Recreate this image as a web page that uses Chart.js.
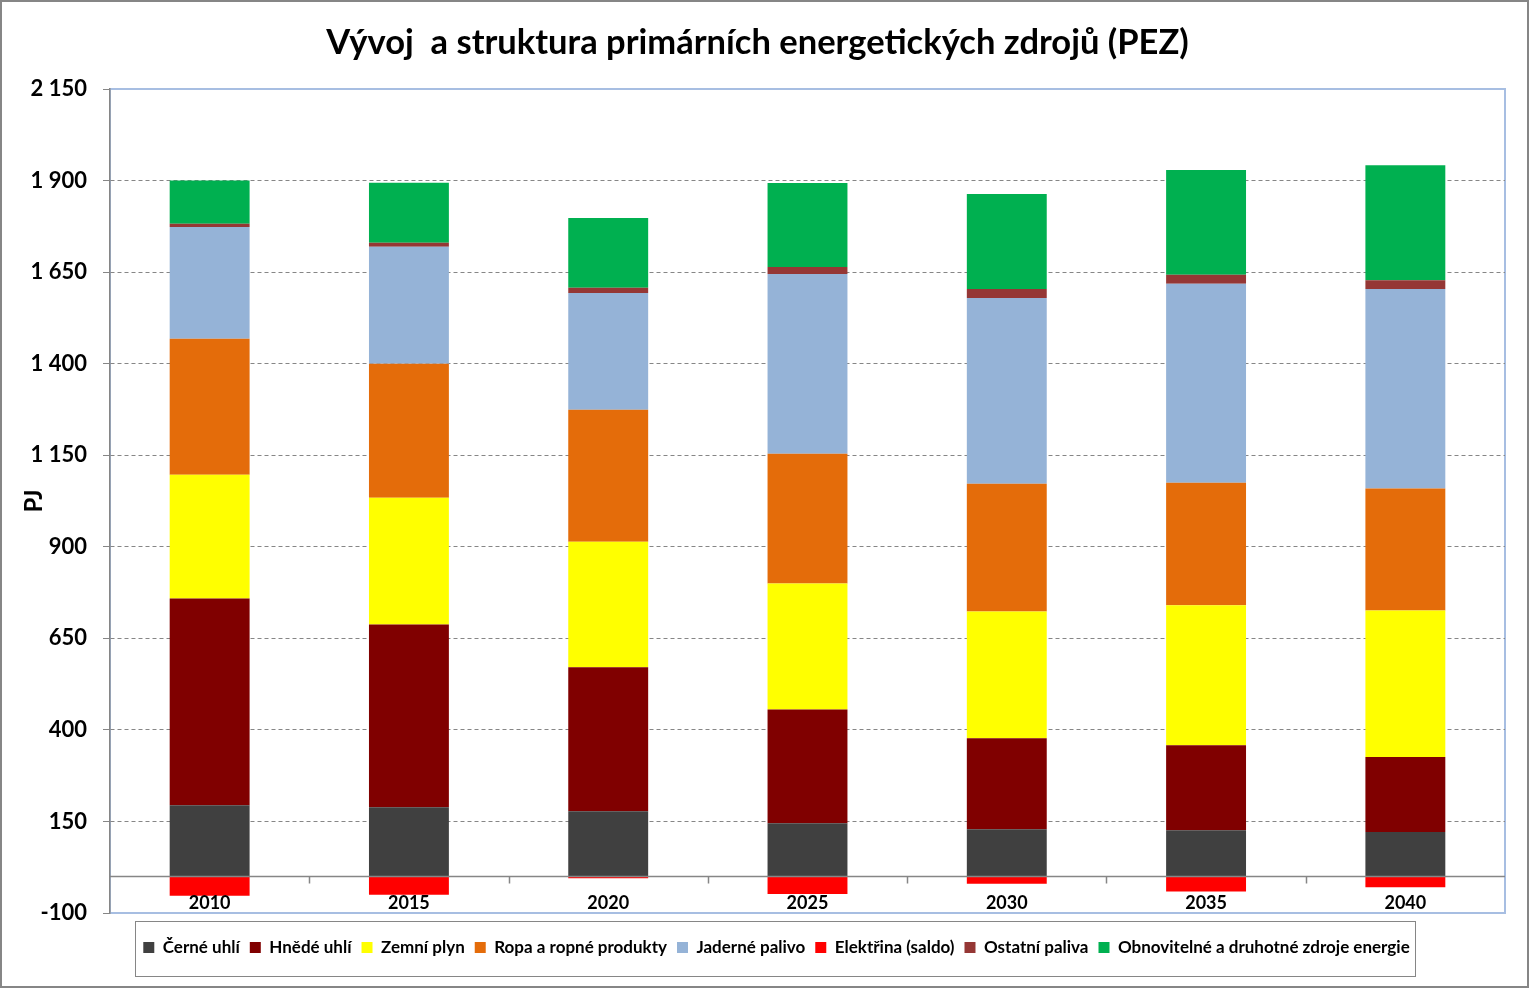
<!DOCTYPE html>
<html>
<head>
<meta charset="utf-8">
<script src="https://cdn.jsdelivr.net/npm/chart.js@4/dist/chart.umd.min.js"></script>
<style>
  html, body { margin: 0; padding: 0; background: #fff; }
  #wrap { width: 1529px; height: 988px; }
</style>
</head>
<body>
<div id="wrap"><canvas id="pez"></canvas></div>
<script>
const years = ['2010', '2015', '2020', '2025', '2030', '2035', '2040'];
const cerneUhli = [194, 189, 178, 145, 129, 126, 121];
const hnedeUhli = [565, 499, 393, 311, 248, 232, 205];
const zemniPlyn = [338, 346, 343, 344, 346, 382, 400];
const ropa = [371, 366, 360, 354, 349, 335, 333];
const jadernePalivo = [305, 319, 319, 491, 507, 543, 545];
const elektrina = [-53, -50, -5, -48, -20, -41, -30];
const ostatniPaliva = [9, 11, 14, 19, 25, 25, 24];
const obnovitelne = [118, 164, 191, 229, 259, 286, 314];
const yTicks = [-100, 150, 400, 650, 900, 1150, 1400, 1650, 1900, 2150];

Chart.defaults.font.family = 'Lato, "Open Sans", sans-serif';
Chart.defaults.font.weight = 'bold';
Chart.defaults.color = '#000';

// frame, zero line, year labels and legend box like the excel original
const frame = {
  id: 'frame',
  afterLayout(chart) {
    // legend sits a bit right of centre in the original
    chart.legend.left += 19;
    chart.legend.right += 19;
  },
  beforeDraw(chart) {
    const {ctx, chartArea: a} = chart;
    ctx.save();
    ctx.strokeStyle = '#a7bee2';
    ctx.lineWidth = 2;
    ctx.strokeRect(a.left, a.top, a.right - a.left, a.bottom - a.top);
    ctx.restore();
  },
  afterDatasetsDraw(chart) {
    const {ctx, chartArea: a, scales: {x, y}} = chart;
    const y0 = Math.round(y.getPixelForValue(0)) + 0.5;
    ctx.save();
    ctx.strokeStyle = '#868686';
    ctx.lineWidth = 1.5;
    ctx.beginPath();
    ctx.moveTo(a.left, y0);
    ctx.lineTo(a.right, y0);
    for (let i = 1; i < years.length; i++) {
      const xm = Math.round((x.getPixelForValue(i - 1) + x.getPixelForValue(i)) / 2) + 0.5;
      ctx.moveTo(xm, y0);
      ctx.lineTo(xm, y0 + 7);
    }
    ctx.stroke();
    ctx.fillStyle = '#000';
    ctx.font = 'bold 18px Lato, "Open Sans", sans-serif';
    ctx.textAlign = 'center';
    ctx.textBaseline = 'middle';
    years.forEach((yr, i) => {
      ctx.fillText(yr, x.getPixelForValue(i), y0 + 27);
    });
    ctx.restore();
  },
  afterDraw(chart) {
    const {ctx, width, height} = chart;
    const hb = chart.legend.legendHitBoxes;
    const l = Math.min(...hb.map(h => h.left)) - 8;
    const r = Math.max(...hb.map(h => h.left + h.width)) + 6;
    const cy = hb[0].top + hb[0].height / 2;
    ctx.save();
    ctx.strokeStyle = '#868686';
    ctx.lineWidth = 1;
    ctx.strokeRect(Math.round(l) + 0.5, Math.round(cy - 27) + 0.5, Math.round(r - l), 55);
    ctx.lineWidth = 2;
    ctx.strokeRect(1, 1, width - 2, height - 2);
    ctx.restore();
  }
};

const ctx = document.getElementById('pez');
new Chart(ctx, {
  type: 'bar',
  plugins: [frame],
  data: {
    labels: years,
    datasets: [
      { label: 'Černé uhlí', data: cerneUhli, backgroundColor: '#404040' },
      { label: 'Hnědé uhlí', data: hnedeUhli, backgroundColor: '#800000' },
      { label: 'Zemní plyn', data: zemniPlyn, backgroundColor: '#ffff00' },
      { label: 'Ropa a ropné produkty', data: ropa, backgroundColor: '#e46c0a' },
      { label: 'Jaderné palivo', data: jadernePalivo, backgroundColor: '#95b3d7' },
      { label: 'Elektřina (saldo)', data: elektrina, backgroundColor: '#ff0000' },
      { label: 'Ostatní paliva', data: ostatniPaliva, backgroundColor: '#953735' },
      { label: 'Obnovitelné a druhotné zdroje energie', data: obnovitelne, backgroundColor: '#00b050' }
    ]
  },
  options: {
    responsive: true,
    maintainAspectRatio: false,
    animation: false,
    datasets: {
      bar: { barPercentage: 0.401, categoryPercentage: 1 }
    },
    layout: { padding: { left: 10, right: 24, top: 0, bottom: 22 } },
    plugins: {
      title: {
        display: true,
        text: 'Vývoj  a struktura primárních energetických zdrojů (PEZ)',
        font: { size: 34.5, weight: 'bold' },
        padding: { top: 22, bottom: 25.6 }
      },
      legend: {
        position: 'bottom',
        labels: {
          boxWidth: 11,
          boxHeight: 11,
          padding: 10,
          font: { size: 17, weight: 'bold' }
        }
      },
      tooltip: { enabled: false }
    },
    scales: {
      x: {
        stacked: true,
        grid: { display: false },
        border: { display: false },
        ticks: { display: false },
        afterFit: (s) => { s.height = 16; }
      },
      y: {
        stacked: true,
        min: -100,
        max: 2150,
        afterFit: (s) => { s.width = 100; },
        afterBuildTicks: (s) => { s.ticks = yTicks.map(v => ({ value: v })); },
        grid: {
          color: (c) => (c.tick && (c.tick.value === -100 || c.tick.value === 2150)) ? 'rgba(0,0,0,0)' : '#868686',
          tickColor: '#868686',
          tickLength: 7,
          lineWidth: 1
        },
        border: { color: '#868686', width: 1.5, dash: [4, 3] },
        ticks: {
          padding: 16,
          font: { size: 22, weight: 'bold' },
          callback: (v) => String(v).replace(/\B(?=(\d{3})+(?!\d))/g, ' ')
        },
        title: {
          display: true,
          text: 'PJ',
          font: { size: 24, weight: 'bold' },
          padding: { top: 10, bottom: 0 }
        }
      }
    }
  }
});
</script>
</body>
</html>
